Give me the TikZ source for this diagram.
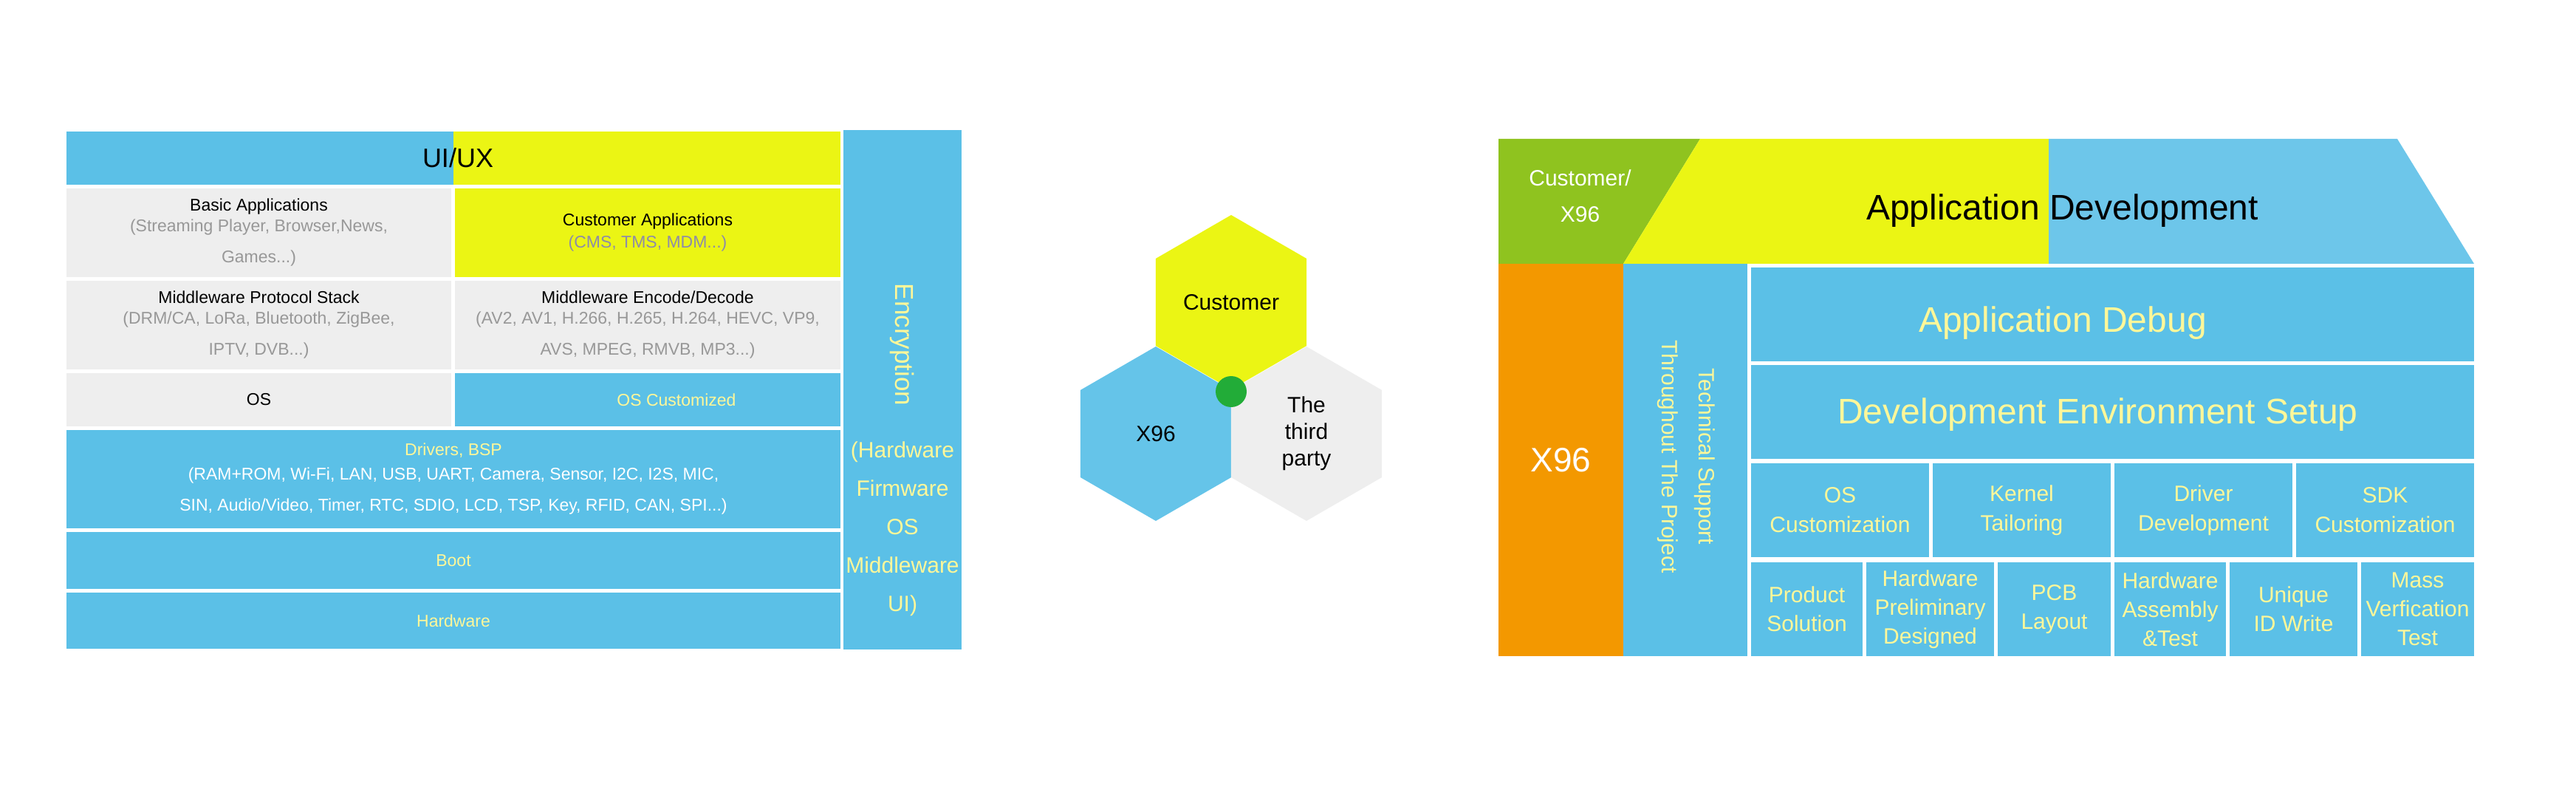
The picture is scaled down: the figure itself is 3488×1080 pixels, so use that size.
\documentclass[tikz,border=0pt]{standalone}
\usepackage{fontspec}
\setmainfont{Liberation Sans}
\usetikzlibrary{shapes.geometric}

\definecolor{layerblue}{HTML}{5BC0E7}
\definecolor{lightblue}{HTML}{6DC6EA}
\definecolor{hexblue}{HTML}{65C4E9}
\definecolor{limeyellow}{HTML}{EBF514}
\definecolor{layergray}{HTML}{EEEEEE}
\definecolor{leafgreen}{HTML}{8FC31F}
\definecolor{orangebox}{HTML}{F39800}
\definecolor{dotgreen}{HTML}{22AC38}
\definecolor{paleyellow}{HTML}{FFF799}
\definecolor{subgray}{HTML}{989898}
\definecolor{cmsgray}{HTML}{8E8CA8}

\begin{document}
\begin{tikzpicture}[x=0.5pt, y=-0.5pt,
  box/.style={rectangle, inner sep=0pt, outer sep=0pt, align=center},
  smalltxt/.style={font=\fontsize{11.5}{14}\selectfont},
  hexa/.style={regular polygon, regular polygon sides=6, shape border rotate=30,
    minimum size=118pt, inner sep=0pt, outer sep=0pt, align=center,
    font=\fontsize{15}{18}\selectfont},
  task/.style={box, fill=layerblue, text=paleyellow, minimum height=63.5pt},
  bigtxt/.style={anchor=base, font=\fontsize{24}{28}\selectfont}]
  \useasboundingbox (0,0) rectangle (3488,1080);

  % Left stack: UI/UX band
  \node[box, fill=layerblue, minimum width=262pt, minimum height=36pt] (uileft) at (352,214) {};
  \node[box, fill=limeyellow, minimum width=262pt, minimum height=36pt] (uiright) at (876,214) {};
  \node[font=\fontsize{18}{21}\selectfont] (uiux) at (620,214) {UI/UX};
  % Applications
  \node[box, smalltxt, fill=layergray, minimum width=260.5pt, minimum height=60pt] (basic) at (350.5,315) {
    Basic Applications\\
    \textcolor{subgray}{(Streaming Player, Browser,News,}\\[7pt]
    \textcolor{subgray}{Games...)}
  };
  \node[box, smalltxt, fill=limeyellow, minimum width=261pt, minimum height=60pt] (custapp) at (877,315) {
    Customer Applications\\[1pt]
    \textcolor{cmsgray}{(CMS, TMS, MDM...)}
  };
  % Middleware
  \node[box, smalltxt, fill=layergray, minimum width=260.5pt, minimum height=60pt] (proto) at (350.5,440) {
    Middleware Protocol Stack\\
    \textcolor{subgray}{(DRM/CA, LoRa, Bluetooth, ZigBee,}\\[7pt]
    \textcolor{subgray}{IPTV, DVB...)}
  };
  \node[box, smalltxt, fill=layergray, minimum width=261pt, minimum height=60pt] (codec) at (877,440) {
    Middleware Encode/Decode\\
    \textcolor{subgray}{(AV2, AV1, H.266, H.265, H.264, HEVC, VP9,}\\[7pt]
    \textcolor{subgray}{AVS, MPEG, RMVB, MP3...)}
  };
  % OS
  \node[box, smalltxt, fill=layergray, minimum width=260.5pt, minimum height=36pt] (os) at (350.5,541) {OS};
  \node[box, fill=layerblue, minimum width=261pt, minimum height=36pt] (oscus) at (877,541) {};
  \node[smalltxt, text=paleyellow] (oscustxt) at (916,541) {OS Customized};
  % Drivers, boot, hardware
  \node[box, smalltxt, fill=layerblue, text=white, minimum width=524pt, minimum height=66.5pt] (drivers) at (614,648.5) {
    \textcolor{paleyellow}{Drivers, BSP}\\[2.5pt]
    (RAM+ROM, Wi-Fi, LAN, USB, UART, Camera, Sensor, I2C, I2S, MIC,\\[7pt]
    SIN, Audio/Video, Timer, RTC, SDIO, LCD, TSP, Key, RFID, CAN, SPI...)
  };
  \node[box, smalltxt, fill=layerblue, text=paleyellow, minimum width=524pt, minimum height=38.5pt] (boot) at (614,758.5) {Boot};
  \node[box, smalltxt, fill=layerblue, text=paleyellow, minimum width=524pt, minimum height=38pt] (hw) at (614,840) {Hardware};
  % Encryption column
  \node[box, fill=layerblue, minimum width=80pt, minimum height=351.5pt] (enc) at (1222,527.5) {};
  \node[rotate=-90, text=paleyellow, font=\fontsize{17.5}{20}\selectfont] (enctitle) at (1222,466.5) {Encryption};
  \node[align=center, text=paleyellow, font=\fontsize{15}{26}\selectfont] (enclist) at (1222,715.5) {
    (Hardware\\Firmware\\OS\\Middleware\\UI)
  };

  % Hexagons
  \node[hexa, fill=limeyellow] (cust) at (1667,409) {Customer};
  \node[hexa, fill=hexblue] (x96hex) at (1565,587) {X96};
  \node[hexa, fill=layergray] (third) at (1769,587) {The\\third\\party};
  \node[circle, fill=dotgreen, minimum size=21pt, inner sep=0pt] (hub) at (1667,530) {};

  % Right block: top band
  \fill[leafgreen] (2029,188) -- (2302,188) -- (2198,357) -- (2029,357) -- cycle;
  \fill[limeyellow] (2302,188) -- (2774,188) -- (2774,357) -- (2198,357) -- cycle;
  \fill[lightblue] (2774,188) -- (3246,188) -- (3350,357) -- (2774,357) -- cycle;
  \node[text=white, align=center, font=\fontsize{15}{24.5}\selectfont] (custx96) at (2139.5,265.5) {Customer/\\X96};
  \node[bigtxt] (appdev) at (2792.5,298) {Application Development};
  % X96 and support columns
  \node[box, fill=orangebox, text=white, font=\fontsize{23}{27}\selectfont, minimum width=84.5pt, minimum height=265.5pt] (x96) at (2113.5,622.5) {X96};
  \node[box, fill=layerblue, minimum width=84pt, minimum height=265.5pt] (tech) at (2282,622.5) {};
  \node[rotate=-90, align=center, text=paleyellow, font=\fontsize{15}{25}\selectfont] (techtxt) at (2283,618) {Technical Support\\Throughout The Project};
  % Debug and environment
  \node[box, fill=layerblue, minimum width=489.5pt, minimum height=63.5pt] (debug) at (2860.5,425.5) {};
  \node[bigtxt, text=paleyellow] (debugtxt) at (2793,449) {Application Debug};
  \node[box, fill=layerblue, minimum width=489.5pt, minimum height=63.5pt] (devenv) at (2860.5,557.5) {};
  \node[bigtxt, text=paleyellow] (devenvtxt) at (2840.5,573) {Development Environment Setup};
  % Software tasks
  \node[task, font=\fontsize{15}{20}\selectfont, minimum width=120.5pt] (oscust) at (2491.5,690.5) {OS\\Customization};
  \node[task, font=\fontsize{15}{20}\selectfont, minimum width=120.5pt] (kernel) at (2737.5,690.5) {Kernel\\Tailoring};
  \node[task, font=\fontsize{15}{20}\selectfont, minimum width=120.5pt] (driver) at (2983.5,690.5) {Driver\\Development};
  \node[task, font=\fontsize{15}{20}\selectfont, minimum width=120.5pt] (sdk) at (3229.5,690.5) {SDK\\Customization};
  % Hardware tasks
  \node[task, font=\fontsize{15}{19.5}\selectfont, minimum width=75.5pt] (product) at (2446.5,824.5) {Product\\Solution};
  \node[task, font=\fontsize{15}{19.5}\selectfont, minimum width=86.5pt] (hwpre) at (2613.5,824.5) {Hardware\\Preliminary\\Designed};
  \node[task, font=\fontsize{15}{19.5}\selectfont, minimum width=76.5pt] (pcb) at (2781.5,824.5) {PCB\\Layout};
  \node[task, font=\fontsize{15}{19.5}\selectfont, minimum width=75.5pt] (hwasm) at (2938.5,824.5) {Hardware\\Assembly\\\&Test};
  \node[task, font=\fontsize{15}{19.5}\selectfont, minimum width=86.5pt] (uid) at (3105.5,824.5) {Unique\\ID Write};
  \node[task, font=\fontsize{15}{19.5}\selectfont, minimum width=76.5pt] (mass) at (3273.5,824.5) {Mass\\Verfication\\Test};
\end{tikzpicture}
\end{document}
